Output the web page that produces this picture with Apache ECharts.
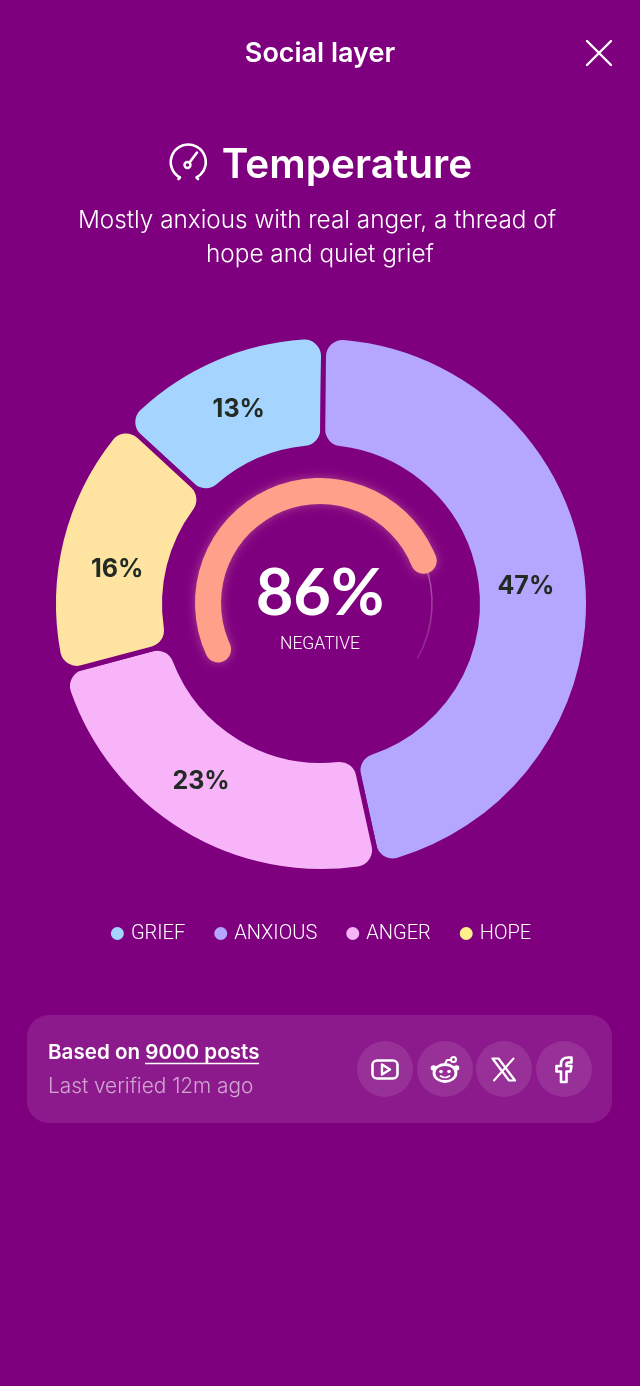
<!DOCTYPE html>
<html><head><meta charset="utf-8">
<style>html,body{margin:0;padding:0;background:#7F007F}#c{width:640px;height:1386px}</style>
<script src="https://cdn.jsdelivr.net/npm/echarts@6/dist/echarts.min.js"></script>
</head><body><div id="c"></div>
<script>
// Data
const categories = ['GRIEF', 'ANXIOUS', 'ANGER', 'HOPE'];
const printedPercents = [13, 47, 23, 16];      // the numbers printed on the slices
const arcShares = [13.3, 46.4, 24.3, 16.0];    // the share of the ring each slice actually covers
const negativePercent = [86];
const postCount = 9000;

const BG = '#7F007F';
const sliceColors = ['#A5D4FF', '#B5A6FF', '#F7B4F8', '#FFE3A0'];
const legendColors = ['#A5D4FF', '#B5A6FF', '#F7B4F8', '#FFF08C'];
const labelOffsets = [[3, 3], [-9, 5], [-8, -6], [5, 17]];
const INK = '#222A24';
const FONT = 'Inter, "Noto Sans", sans-serif';
const t = (text, x, y, size, weight, fill, extra) => ({
  type: 'text', x, y,
  style: Object.assign({ text, font: `${weight} ${size}px ${FONT}`, fill, align: 'center', verticalAlign: 'middle' }, extra || {})
});
let iconId = 0;
const stroke = (d, w) => {
  const name = 'iconPath' + (iconId++);
  echarts.graphic.registerShape(name, echarts.graphic.extendPath(d));
  return { type: name, style: { fill: 'none', stroke: '#fff', lineWidth: w || 2.4, lineCap: 'round', lineJoin: 'round' } };
};
const circle = (cx, cy, r, fill) => ({ type: 'circle', shape: { cx, cy, r }, style: { fill } });

const chart = echarts.init(document.getElementById('c'), null, { renderer: 'canvas' });
chart.setOption({
  animation: false,
  backgroundColor: BG,
  legend: {
    show: true, top: 918.5, left: 'center', icon: 'circle', itemWidth: 15, itemHeight: 15, itemGap: 27,
    selectedMode: false,
    textStyle: { color: '#fff', fontSize: 20, fontWeight: 300, fontFamily: 'Roboto', padding: [0, 0, 0, 1] },
    data: categories.map((name, i) => ({ name, itemStyle: { color: legendColors[i] } }))
  },
  series: [
    {
      type: 'pie', silent: true, center: [321, 604], radius: [156.5, 267.5], startAngle: 137.3, clockwise: true,
      avoidLabelOverlap: false,
      itemStyle: { borderColor: BG, borderWidth: 5, borderRadius: 19 },
      label: { show: true, position: 'inside', color: INK, fontFamily: FONT, fontSize: 25, fontWeight: 700 },
      labelLine: { show: false },
      data: categories.map((name, i) => ({
        name, value: arcShares[i],
        itemStyle: { color: sliceColors[i] },
        label: { formatter: printedPercents[i] + '%', offset: labelOffsets[i] }
      }))
    },
    {
      type: 'gauge', silent: true, center: [320, 603], radius: 112.8, startAngle: 22.2, endAngle: -30, min: 0, max: 100,
      axisLine: { roundCap: false, lineStyle: { width: 1.5, color: [[1, new echarts.graphic.LinearGradient(0, 0, 0, 1, [
        { offset: 0, color: 'rgba(255,255,255,0.35)' }, { offset: 1, color: 'rgba(255,255,255,0.12)' }
      ])]] } },
      axisTick: { show: false }, splitLine: { show: false }, axisLabel: { show: false }, pointer: { show: false },
      title: { show: false }, detail: { show: false }, data: []
    },
    {
      type: 'gauge', silent: true, center: [320, 603], radius: 125, startAngle: 204.5, endAngle: -7.5, min: 0, max: 100,
      axisLine: { lineStyle: { width: 0, color: [[1, 'rgba(0,0,0,0)']] } },
      progress: { show: true, width: 26, roundCap: true,
        itemStyle: { color: '#FFA08A', shadowBlur: 10, shadowColor: 'rgba(255,190,170,0.35)' } },
      axisTick: { show: false }, splitLine: { show: false }, axisLabel: { show: false }, pointer: { show: false },
      anchor: { show: false },
      title: { show: true, offsetCenter: [0, 42], color: '#fff', fontFamily: 'Roboto', fontSize: 17.5, fontWeight: 300 },
      detail: { show: true, valueAnimation: false, offsetCenter: [0, -9], color: '#fff', fontFamily: 'Lato', fontSize: 65, fontWeight: 700,
        formatter: v => v + '%' },
      data: negativePercent.map(value => ({ value, name: 'NEGATIVE' }))
    }
  ],
  graphic: { elements: [
    t('Social layer', 320, 53.5, 27, 600, '#fff'),
    stroke('M587 41L611 65M611 41L587 65', 2.4),
    { type: 'line', shape: { x1: 0, y1: 93, x2: 640, y2: 93 }, style: { stroke: 'rgba(0,0,0,0.04)', lineWidth: 1 } },
    stroke('M178.5 179 L180 177.5 A17.5 17.5 0 1 1 196.5 177.5 L198 179', 2.6),
    stroke('M189.5 162.5 L197 152.5', 2.6),
    { type: 'circle', shape: { cx: 187.5, cy: 165, r: 3 }, style: { fill: 'none', stroke: '#fff', lineWidth: 2.4 } },
    t('Temperature', 347, 165.5, 40.5, 600, '#fff'),
    t('Mostly anxious with real anger, a thread of', 317, 221, 24.3, 300, '#fff'),
    t('hope and quiet grief', 320, 255, 24.3, 300, '#fff'),

    { type: 'rect', shape: { x: 27, y: 1015, width: 585, height: 108, r: 22 }, style: { fill: 'rgba(255,255,255,0.1)' } },
    t('Based on ' + postCount + ' posts', 48, 1053, 20.6, 600, '#fff', { align: 'left' }),
    { type: 'line', shape: { x1: 145, y1: 1063.5, x2: 259, y2: 1063.5 }, style: { stroke: '#fff', lineWidth: 1.5 } },
    t('Last verified 12m ago', 48, 1087, 20.8, 300, 'rgba(255,255,255,0.6)', { align: 'left' }),
    circle(385, 1069, 28, 'rgba(255,255,255,0.1)'),
    circle(445, 1069, 28, 'rgba(255,255,255,0.1)'),
    circle(504, 1069, 28, 'rgba(255,255,255,0.1)'),
    circle(564, 1069, 28, 'rgba(255,255,255,0.1)'),
    // youtube
    { type: 'rect', shape: { x: 372.5, y: 1060.5, width: 25, height: 18, r: 4.5 }, style: { fill: 'none', stroke: '#fff', lineWidth: 2.6 } },
    stroke('M382 1064.5L390 1069.5L382 1074.5Z', 2.4),
    // reddit
    { type: 'ellipse', shape: { cx: 445, cy: 1073, rx: 11, ry: 8.5 }, style: { fill: 'none', stroke: '#fff', lineWidth: 2.8 } },
    circle(433.5, 1068, 2.8, '#fff'),
    circle(456.5, 1068, 2.8, '#fff'),
    circle(441, 1071.5, 1.8, '#fff'),
    circle(449, 1071.5, 1.8, '#fff'),
    stroke('M440.5 1076Q445 1079 449.5 1076', 1.7),
    stroke('M445 1064L447 1060L451 1060', 2),
    { type: 'circle', shape: { cx: 453.5, cy: 1059.5, r: 2.5 }, style: { fill: 'none', stroke: '#fff', lineWidth: 2 } },
    // X
    stroke('M492.5 1058.5H498.5L515 1080.5H509Z', 2.2),
    stroke('M513.5 1058.5L494 1080.5', 2),
    // facebook
    stroke('M568.5 1057.5C563 1057.5 561 1060 561 1064V1066H556.5V1071.5H561V1082H566.5V1071.5H570.5L571.5 1066H566.5V1064.5C566.5 1063 567.2 1062.5 568.5 1062.5H571.5V1057.5Z', 2.6)
  ] }
});
</script></body></html>
